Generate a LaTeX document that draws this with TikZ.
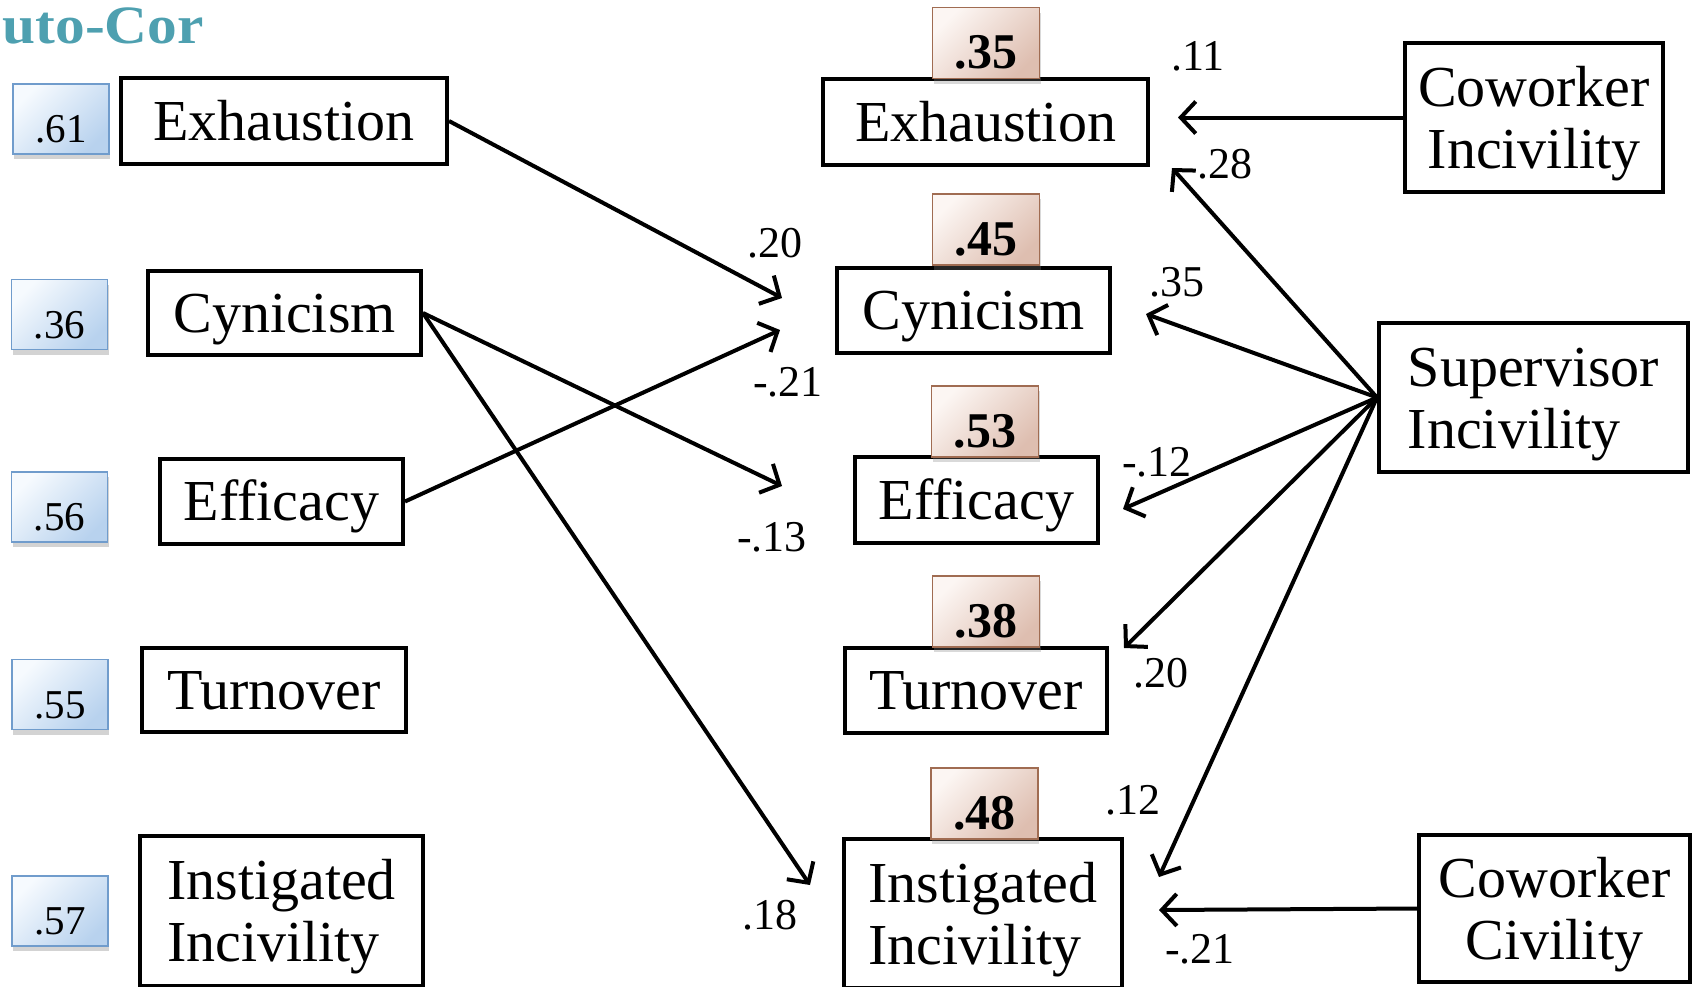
\documentclass[tikz,border=0pt]{standalone}
\usepackage{fontspec}
\setmainfont{Liberation Serif}
\usetikzlibrary{arrows.meta,shadows}
\definecolor{bluefill}{RGB}{184,210,238}
\definecolor{bluelite}{RGB}{246,250,254}
\definecolor{blueedge}{RGB}{112,156,204}
\definecolor{beigefill}{RGB}{222,190,176}
\definecolor{beigelite}{RGB}{252,246,243}
\definecolor{beigeedge}{RGB}{160,108,82}
\definecolor{teal1}{RGB}{78,160,176}
\newcommand\firststrut{\rule{0pt}{52pt}}
\begin{document}
\begin{tikzpicture}[x=1pt,y=-1pt,
  boxbase/.style={draw=black, line width=4pt, inner sep=0pt,
    font=\fontsize{58}{62}\selectfont},
  var/.style={boxbase, execute at begin node={\rule[-13pt]{0pt}{64pt}}},
  var2/.style={boxbase, align=center},
  var2l/.style={boxbase, align=left},
  rbox/.style={draw=blueedge, line width=1.5pt, minimum width=96pt, minimum height=70pt,
    inner sep=0pt, top color=bluelite, bottom color=bluefill, shading angle=45,
    drop shadow={shadow xshift=1pt, shadow yshift=-5pt, opacity=0.35},
    font=\fontsize{41}{41}\selectfont,
    execute at begin node={\rule{0pt}{48pt}}},
  r2box/.style={draw=beigeedge, line width=1.5pt, minimum width=107pt, minimum height=71pt,
    inner sep=0pt, top color=beigelite, bottom color=beigefill, shading angle=45,
    drop shadow={shadow xshift=1pt, shadow yshift=-5pt, opacity=0.3},
    font=\bfseries\fontsize{50}{50}\selectfont,
    execute at begin node={\rule{0pt}{52pt}}},
  path/.style={line width=4pt, -{Straight Barb[length=15pt,width=32pt,line width=4pt]}},
  lab/.style={inner sep=0pt, font=\fontsize{44}{44}\selectfont}
]
\useasboundingbox (0,0) rectangle (1698,986);
\clip (0,0) rectangle (1698,986);

% title fragment
\node[anchor=base east, inner sep=0pt, text=teal1, font=\bfseries\fontsize{54}{54}\selectfont] (title) at (204,43) {\scalebox{1.1}[1]{uto-Cor}};

% left column (time 1)
\node[var, minimum width=326pt, minimum height=86pt] (LExh) at (284,121) {Exhaustion};
\node[var, minimum width=273pt, minimum height=84pt] (LCyn) at (284.5,313) {Cynicism};
\node[var, minimum width=243pt, minimum height=85pt] (LEff) at (281.5,501.5) {Efficacy};
\node[var, minimum width=264pt, minimum height=84pt] (LTurn) at (274,690) {Turnover};
\node[var2l, minimum width=283pt, minimum height=150pt] (LInst) at (281.5,911) {\firststrut Instigated\\Incivility};

\node[rbox] (b61) at (61,119) {.61};
\node[rbox] (b36) at (59.5,314.5) {.36};
\node[rbox] (b56) at (59.5,507) {.56};
\node[rbox] (b55) at (60,694.5) {.55};
\node[rbox] (b57) at (60,911) {.57};

% middle column (time 2)
\node[var, minimum width=325pt, minimum height=86pt] (MExh) at (985.5,122) {Exhaustion};
\node[var, minimum width=273pt, minimum height=85pt] (MCyn) at (973.5,310.5) {Cynicism};
\node[var, minimum width=243pt, minimum height=86pt] (MEff) at (976.5,500) {Efficacy};
\node[var, minimum width=262pt, minimum height=85pt] (MTurn) at (976,690.5) {Turnover};
\node[var2l, minimum width=278pt, minimum height=149pt] (MInst) at (983,913.5) {\firststrut Instigated\\Incivility};

\node[r2box] (r35) at (986,43) {.35};
\node[r2box] (r45) at (986,229.5) {.45};
\node[r2box] (r53) at (985,421.5) {.53};
\node[r2box] (r38) at (986,611.5) {.38};
\node[r2box] (r48) at (984.5,803.5) {.48};

% right column
\node[var2, minimum width=258pt, minimum height=149pt] (CI) at (1534,117.5) {\firststrut Coworker\\Incivility};
\node[var2l, minimum width=309pt, minimum height=149pt] (SI) at (1533.5,397.5) {\firststrut Supervisor\\Incivility};
\node[var2, minimum width=271pt, minimum height=147pt] (CC) at (1554.5,908.5) {\firststrut Coworker\\Civility};

% arrow end points
\coordinate (tExhCyn) at (782,298);
\coordinate (tEffCyn) at (780,330);
\coordinate (tCynEff) at (782,486);
\coordinate (tCynInst) at (810,885);
\coordinate (tCI) at (1178,117.5);
\coordinate (tCC) at (1159,910);
\coordinate (tSExh) at (1172,168);
\coordinate (tSCyn) at (1146,314);
\coordinate (tSEff) at (1123,509);
\coordinate (tSTurn) at (1124,648);
\coordinate (tSInst) at (1159,877);

% paths
\draw[path] (LExh.east) -- (tExhCyn);
\draw[path] (LEff.east) -- (tEffCyn);
\draw[path] (LCyn.east) -- (tCynEff);
\draw[path] (LCyn.east) -- (tCynInst);
\draw[path] (CI.west) -- (tCI);
\draw[path] (CC.west) -- (tCC);
\draw[path] (SI.west) -- (tSExh);
\draw[path] (SI.west) -- (tSCyn);
\draw[path] (SI.west) -- (tSEff);
\draw[path] (SI.west) -- (tSTurn);
\draw[path] (SI.west) -- (tSInst);

% coefficients
\node[lab] (c11) at (1198,56) {.11};
\node[lab] (c28) at (1225,164) {.28};
\node[lab] (c20a) at (775,243) {.20};
\node[lab] (c21a) at (788,382) {-.21};
\node[lab] (c13) at (772,537) {-.13};
\node[lab] (c35) at (1177,282) {.35};
\node[lab] (c12a) at (1157,462) {-.12};
\node[lab] (c20b) at (1161,673) {.20};
\node[lab] (c12b) at (1133,800) {.12};
\node[lab] (c18) at (770,915) {.18};
\node[lab] (c21b) at (1200,949) {-.21};
\end{tikzpicture}
\end{document}
